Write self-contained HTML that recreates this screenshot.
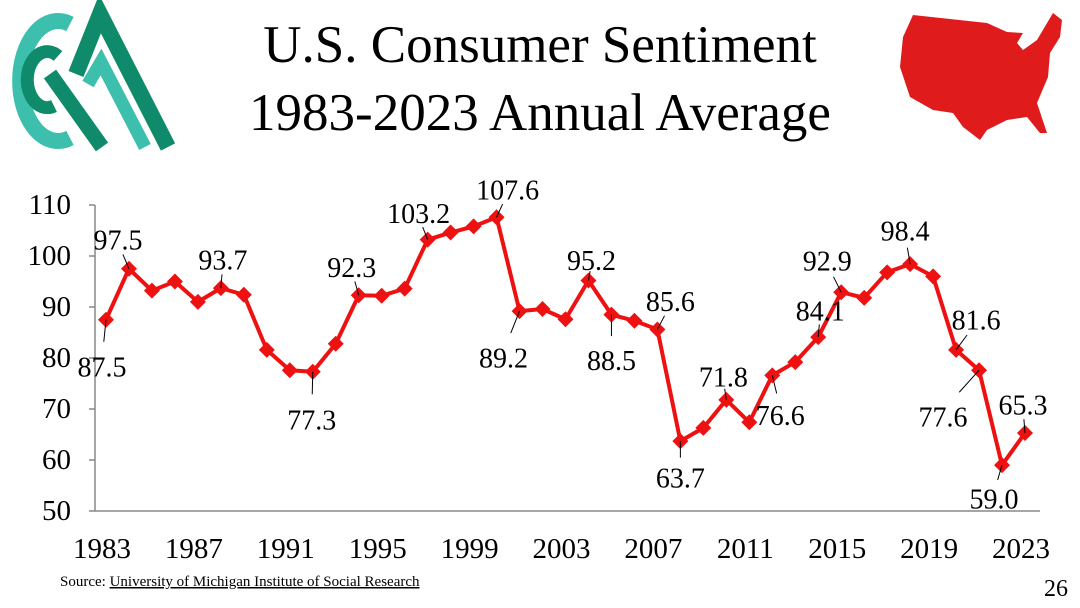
<!DOCTYPE html>
<html><head><meta charset="utf-8"><style>
body{margin:0;background:#fff;width:1080px;height:608px;overflow:hidden;font-family:"Liberation Serif",serif;}
svg{display:block}
</style></head><body>
<svg width="1080" height="608" viewBox="0 0 1080 608">
<g fill="none" stroke-linecap="butt">
  <path d="M70,24 A38,60 0 1 0 70,138" stroke="#3dbfad" stroke-width="16"/>
  <path d="M58,56 A20,28 0 1 0 54,106" stroke="#0f8a6b" stroke-width="13"/>
  <path d="M50,74 L102,147" stroke="#0f8a6b" stroke-width="15"/>
  <path d="M76,74 L100,14 L168,147" stroke="#0f8a6b" stroke-width="16" stroke-linejoin="miter"/>
  <path d="M88,84 L101,62 L145,147" stroke="#3dbfad" stroke-width="13"/>
</g>
<text x="540" y="62" text-anchor="middle" font-size="53">U.S. Consumer Sentiment</text>
<text x="540" y="130" text-anchor="middle" font-size="53">1983-2023 Annual Average</text>
<polygon fill="#e01b1b" points="913,15 987,23 1007,32 1023,33 1017,43 1023,50 1037,40 1053,13 1062,20 1060,37 1050,53 1048,77 1037,103 1047,133 1040,133 1027,117 1007,120 987,130 980,140 963,127 953,113 933,110 910,97 900,67 903,37"/>
<g id="axes"></g>
<g id="plot"></g>
<text x="60" y="586" font-size="15">Source: <tspan text-decoration="underline">University of Michigan Institute of Social Research</tspan></text>
<text x="1068" y="596" text-anchor="end" font-size="24">26</text>
</svg>
<script>
const years=[1983,1984,1985,1986,1987,1988,1989,1990,1991,1992,1993,1994,1995,1996,1997,1998,1999,2000,2001,2002,2003,2004,2005,2006,2007,2008,2009,2010,2011,2012,2013,2014,2015,2016,2017,2018,2019,2020,2021,2022,2023];
const sentiment=[87.5,97.5,93.2,95.0,91.0,93.7,92.4,81.6,77.6,77.3,82.8,92.3,92.2,93.6,103.2,104.6,105.8,107.6,89.2,89.6,87.6,95.2,88.5,87.3,85.6,63.7,66.3,71.8,67.4,76.6,79.2,84.1,92.9,91.8,96.8,98.4,96.0,81.6,77.6,59.0,65.3];
const yTicks=[50,60,70,80,90,100,110];
const xTickYears=[1983,1987,1991,1995,1999,2003,2007,2011,2015,2019,2023];
const labeledYears=[1983,1984,1988,1992,1994,1997,2000,2001,2004,2005,2007,2008,2010,2012,2014,2015,2018,2020,2021,2022,2023];
const labelOffsets=[[-4,40],[-11,-26],[2,-25],[-1,41],[-7,-25],[-9,-23],[11,-24],[-16,40],[3,-17],[0,39],[13,-25],[0,30],[-3,-20],[8,33],[2,-23],[-14,-28],[-5,-30],[20,-27],[-36,40],[-8,27],[-2,-25]];
const NS='http://www.w3.org/2000/svg';
const X0=106,X1=1025,Y0=511,Y1=205;
const xs=y=>X0+(y-years[0])/(years[years.length-1]-years[0])*(X1-X0);
const ys=v=>Y0-(v-50)/(110-50)*(Y0-Y1);
function mk(tag,attrs,parent){const e=document.createElementNS(NS,tag);for(const k in attrs)e.setAttribute(k,attrs[k]);parent.appendChild(e);return e;}
const ax=document.getElementById('axes'),pl=document.getElementById('plot');
let a=mk('line',{x1:95,y1:Y1,x2:95,y2:Y0,stroke:'#888','stroke-width':1.5},ax);


a=mk('line',{x1:95,y1:Y0,x2:1040,y2:Y0,stroke:'#888','stroke-width':1.5},ax);


yTicks.forEach(t=>{
  mk('line',{x1:89,x2:95,y1:ys(t),y2:ys(t),stroke:'#888','stroke-width':1.5},ax);
  const tx=mk('text',{x:71,y:ys(t),'text-anchor':'end','dominant-baseline':'central','font-size':29},ax);
  tx.textContent=t;
  
  
});
xTickYears.forEach(t=>{
  const tx=mk('text',{x:xs(t)-4,y:558,'text-anchor':'middle','font-size':29},ax);
  tx.textContent=t;
  
  
});
const pts=years.map((y,i)=>xs(y)+','+ys(sentiment[i])).join(' ');
const line=mk('polyline',{points:pts,fill:'none',stroke:'#ee1111','stroke-width':4,'stroke-linejoin':'round'},pl);


years.forEach((y,i)=>{
  const cx=xs(y),cy=ys(sentiment[i]);
  const d=mk('polygon',{points:`${cx},${cy-8} ${cx+8},${cy} ${cx},${cy+8} ${cx-8},${cy}`,fill:'#ee1111'},pl);
  
  
});
labeledYears.forEach((y,k)=>{
  const i=years.indexOf(y);const v=sentiment[i];
  const cx=xs(y),cy=ys(v),[dx,dy]=labelOffsets[k];
  const ln=mk('line',{x1:cx,y1:cy,x2:cx+dx*0.55,y2:cy+dy*0.55,stroke:'#000','stroke-width':1},pl);
  
  
  const tx=mk('text',{x:cx+dx,y:cy+dy+(dy>0?8:-2),'text-anchor':'middle','dominant-baseline':'central','font-size':28,fill:'#000'},pl);
  tx.textContent=v.toFixed(1);
  
  
});
</script>
</body></html>
